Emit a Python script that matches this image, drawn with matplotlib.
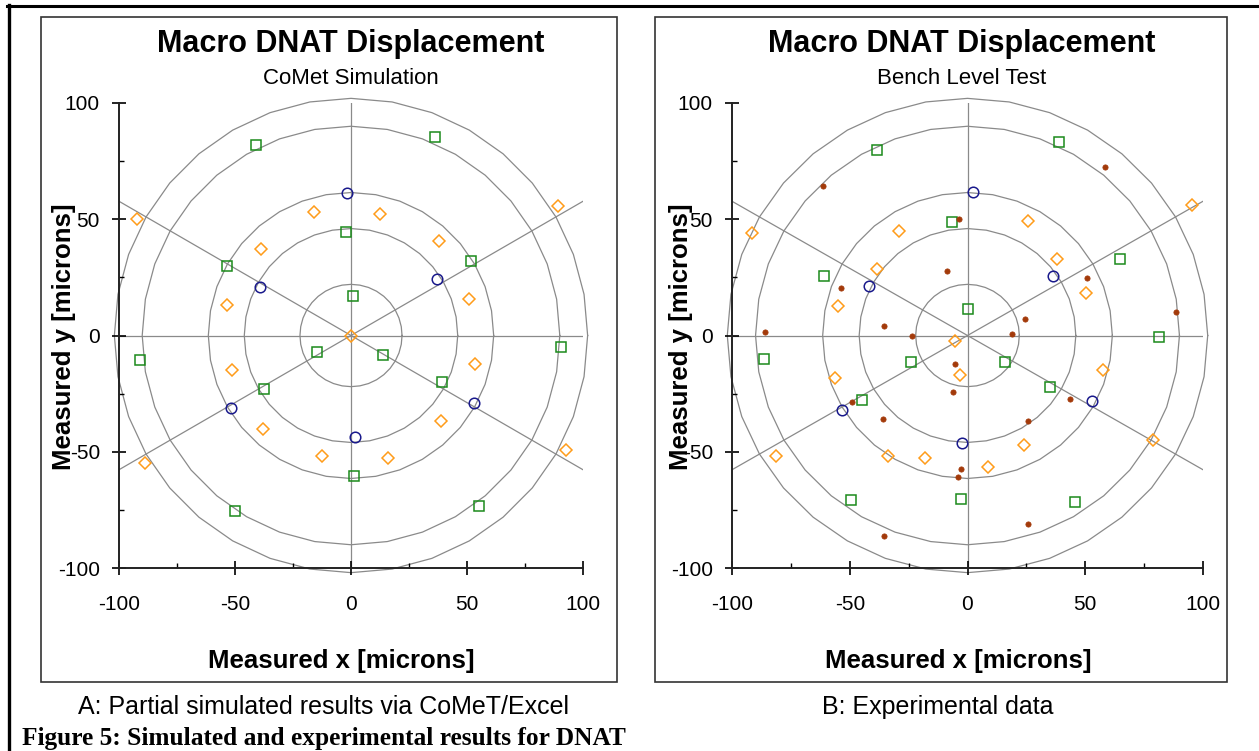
import numpy as np
import matplotlib
matplotlib.use("Agg")
import matplotlib.pyplot as plt
from matplotlib.lines import Line2D
from matplotlib.patches import Rectangle
from matplotlib.ticker import MultipleLocator

plt.rcParams['font.family'] = ['Liberation Sans', 'DejaVu Sans']
plt.rcParams['axes.unicode_minus'] = False

W, H = 1259, 751

# polar reference grid
ring_radii = [22, 46, 61.5, 90, 102]
spoke_angles = [90, 0, 30, -30]

# A: CoMet simulation
sim_sq_x = [-40.8, 36.0, -2.0, 0.7, -53.4, 51.6, -90.9, -14.5, 13.6, 90.4, -37.3, 39.1, 1.4, -50.0, 55.1]
sim_sq_y = [81.8, 85.2, 44.6, 16.9, 29.7, 32.2, -10.6, -7.3, -8.2, -5.0, -23.2, -20.0, -60.4, -75.5, -73.4]
sim_di_x = [-92.3, 89.1, -15.8, 12.6, -38.6, 38.0, -53.5, 50.9, 0.0, -51.2, 53.6, -37.9, 38.9, -89.0, 92.5, -12.5, 16.0]
sim_di_y = [50.2, 55.8, 53.2, 52.4, 37.2, 40.6, 13.0, 15.6, 0.0, -14.8, -12.3, -40.1, -36.6, -54.9, -49.2, -51.8, -52.5]
sim_ci_x = [-1.6, -39.1, 37.2, -51.8, 53.2, 1.7]
sim_ci_y = [61.4, 21.0, 24.2, -31.2, -28.9, -43.8]

# B: bench level test
exp_sq_x = [-38.3, 38.7, -6.7, -60.8, 64.6, 0.4, 81.5, -86.6, -23.8, 15.8, 35.1, -44.8, -49.5, -2.8, 45.5]
exp_sq_y = [79.9, 83.4, 48.9, 25.5, 33.1, 11.6, -0.8, -10.0, -11.3, -11.3, -22.3, -27.6, -70.9, -70.5, -71.6]
exp_di_x = [-91.5, 95.2, -28.9, 25.6, -38.5, 37.9, -55.0, 50.2, -5.4, -3.1, -56.3, 57.6, -81.2, -33.9, -18.2, 8.9, 24.2, 78.9]
exp_di_y = [44.1, 56.3, 44.8, 49.4, 28.4, 32.7, 12.6, 18.2, -2.3, -17.2, -18.2, -14.9, -51.7, -51.7, -52.9, -56.6, -47.0, -45.0]
exp_ci_x = [2.3, -42.0, 36.4, -53.5, 52.7, -2.4]
exp_ci_y = [61.8, 21.5, 25.6, -32.1, -28.2, -46.3]
exp_dot_x = [-61.5, 58.3, -3.7, -8.9, -53.6, 50.8, 88.7, 24.3, -85.8, -35.3, -23.5, 19.1,
             -5.5, -6.2, -49.1, 43.7, -35.8, 25.9, -2.8, -4.1, 25.5, -35.3]
exp_dot_y = [64.3, 72.3, 50.3, 27.8, 20.6, 24.8, 10.0, 7.0, 1.3, 4.3, 0.0, 0.5,
             -12.3, -24.5, -28.5, -27.4, -36.0, -36.7, -57.6, -60.9, -80.9, -86.4]

ticks = [-100, -50, 0, 50, 100]

GREEN = '#1b8a1b'
ORANGE = '#ff9c1a'
NAVY = '#1a1a8c'
BROWN = '#a33a0a'
GRID = '#8a8a8a'


def fx(px):
    return px / W


def fy(py):
    return 1 - py / H


def draw_grid(ax):
    th = np.deg2rad(np.arange(0, 361, 10))
    for r in ring_radii:
        ax.plot(r * np.cos(th), r * np.sin(th), color=GRID, lw=0.9, zorder=1, clip_on=False)
    for a in spoke_angles:
        if a == 90:
            ax.plot([0, 0], [-100, 100], color=GRID, lw=0.9, zorder=1)
        else:
            t = np.tan(np.deg2rad(a))
            ax.plot([-100, 100], [-100 * t, 100 * t], color=GRID, lw=0.9, zorder=1)


def style_axes(ax):
    ax.set_xlim(-100, 100)
    ax.set_ylim(-100, 100)
    for s in ['top', 'right']:
        ax.spines[s].set_visible(False)
    for s in ['left', 'bottom']:
        ax.spines[s].set_linewidth(1.4)
        ax.spines[s].set_color('#222222')
    ax.set_xticks(ticks)
    ax.set_yticks(ticks)
    ax.xaxis.set_minor_locator(MultipleLocator(25))
    ax.yaxis.set_minor_locator(MultipleLocator(25))
    ax.tick_params(which='major', direction='inout', length=9.5, width=1.2, labelsize=15)
    ax.tick_params(which='minor', direction='in', length=3.8, width=1.0)
    ax.tick_params(axis='y', which='major', pad=9)
    ax.tick_params(axis='x', which='major', pad=15)
    ax.patch.set_alpha(0)


def markers(ax, sq, di, ci, dots=None):
    ax.plot(sq[0], sq[1], ls='none', marker='s', ms=7.2, mfc='none', mec=GREEN, mew=1.1, zorder=3, clip_on=False)
    ax.plot(di[0], di[1], ls='none', marker='D', ms=6.6, mfc='none', mec=ORANGE, mew=1.1, zorder=3, clip_on=False)
    ax.plot(ci[0], ci[1], ls='none', marker='o', ms=7.6, mfc='none', mec=NAVY, mew=1.1, zorder=3, clip_on=False)
    if dots is not None:
        ax.plot(dots[0], dots[1], ls='none', marker='o', ms=3.8, mfc=BROWN, mec=BROWN, mew=0.5, zorder=4)


fig = plt.figure(figsize=(W / 100, H / 100), dpi=100)

# outer page border (top and left only)
fig.add_artist(Line2D([fx(7), 1.0], [fy(6), fy(6)], color='black', lw=2.2))
fig.add_artist(Line2D([fx(8.5), fx(8.5)], [fy(5), 0.0], color='black', lw=2.4))

# panel frames
for x0, x1 in [(41, 617), (655, 1227)]:
    fig.add_artist(Rectangle((fx(x0), fy(682)), fx(x1) - fx(x0), fy(17) - fy(682),
                             fill=False, ec='#333333', lw=1.2))

panels = [
    dict(ax_px=(119, 583), center=351, sub='CoMet Simulation', ylab_x=64, xlab_x=341,
         sq=(sim_sq_x, sim_sq_y), di=(sim_di_x, sim_di_y), ci=(sim_ci_x, sim_ci_y), dots=None),
    dict(ax_px=(732, 1203), center=962, sub='Bench Level Test', ylab_x=681, xlab_x=958,
         sq=(exp_sq_x, exp_sq_y), di=(exp_di_x, exp_di_y), ci=(exp_ci_x, exp_ci_y),
         dots=(exp_dot_x, exp_dot_y)),
]

for p in panels:
    x0, x1 = p['ax_px']
    ax = fig.add_axes([fx(x0), fy(568), fx(x1) - fx(x0), fy(103) - fy(568)])
    style_axes(ax)
    draw_grid(ax)
    markers(ax, p['sq'], p['di'], p['ci'], p['dots'])
    fig.text(fx(p['center']), fy(44), 'Macro DNAT Displacement', ha='center', va='center',
             fontsize=22, fontweight='bold')
    fig.text(fx(p['center']), fy(78), p['sub'], ha='center', va='center', fontsize=16)
    fig.text(fx(p['ylab_x']), fy(337), 'Measured y [microns]', ha='center', va='center',
             rotation=90, fontsize=18.5, fontweight='bold')
    fig.text(fx(p['xlab_x']), fy(661), 'Measured x [microns]', ha='center', va='center',
             fontsize=18.5, fontweight='bold')

fig.text(fx(324), fy(707), 'A: Partial simulated results via CoMeT/Excel', ha='center', va='center',
         fontsize=18)
fig.text(fx(938), fy(707), 'B: Experimental data', ha='center', va='center', fontsize=18)
fig.text(fx(22), fy(738), 'Figure 5: Simulated and experimental results for DNAT', ha='left',
         va='center', fontsize=18.3, fontweight='bold', family=['Liberation Serif', 'DejaVu Serif'])

fig.savefig('out.png', dpi=100)
